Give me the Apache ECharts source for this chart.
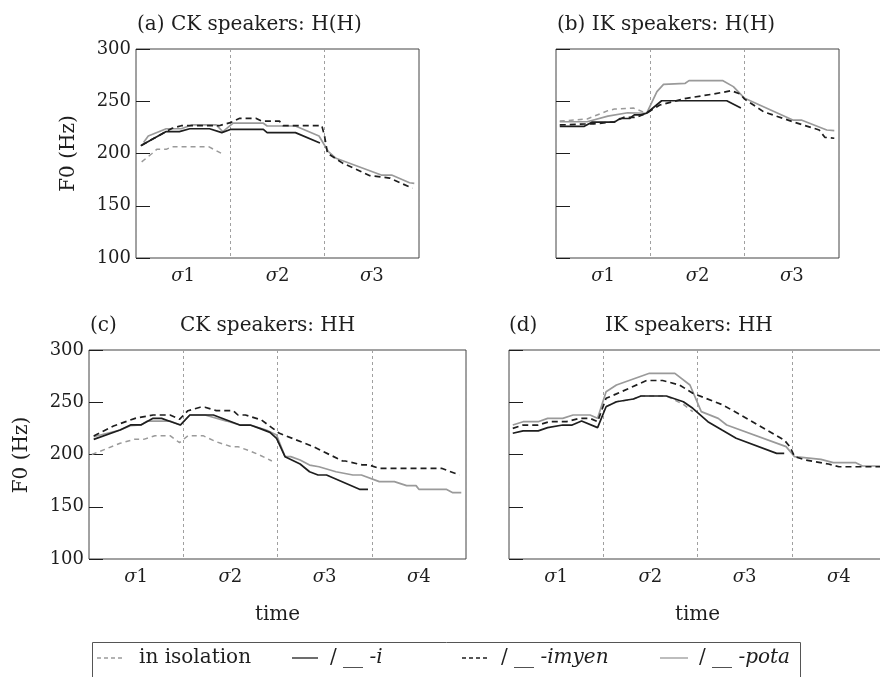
<!DOCTYPE html>
<html>
<head>
<meta charset="utf-8">
<script src="https://cdn.jsdelivr.net/npm/echarts@6/dist/echarts.min.js"></script>
<style>
  html, body { margin: 0; padding: 0; background: #fff; }
  #chart { width: 880px; height: 677px; }
</style>
</head>
<body>
<div id="chart"></div>
<script>
// section labels under each panel
const sections3 = ['σ1', 'σ2', 'σ3'];
const sections4 = ['σ1', 'σ2', 'σ3', 'σ4'];

// F0 axis
const yMin = 100, yMax = 300, yStep = 50;

// (a) CK speakers: H(H)   [time in syllable units, F0 Hz]
const aIso   = [[0.06,192],[0.17,200],[0.22,204],[0.32,204],[0.38,206.5],[0.77,206.5],[0.92,199.5]];
const aI     = [[0.05,207.5],[0.32,221],[0.46,221],[0.57,223.7],[0.78,223.7],[0.91,220],[1.0,223],[1.35,223],[1.39,220],[1.69,220],[1.95,210]];
const aImyen = [[0.06,208],[0.2,215],[0.38,224],[0.48,226.6],[0.88,226.6],[1.0,229.5],[1.1,233.7],[1.27,233.7],[1.33,231],[1.52,231],[1.56,226.6],[1.97,226.6],[2.0,216],[2.03,200.2],[2.19,190.8],[2.48,178.8],[2.69,176.5],[2.93,166.7]];
const aPota  = [[0.08,210.6],[0.13,216.7],[0.32,223.7],[0.48,223.7],[0.59,227.3],[0.85,227.3],[0.92,221],[1.03,229],[1.35,229],[1.39,226.3],[1.69,226.3],[1.94,216.7],[2.04,201.7],[2.12,195.4],[2.6,179.4],[2.71,179.4],[2.9,172],[2.95,171.5]];

// (b) IK speakers: H(H)
const bIso   = [[0.04,231],[0.33,233],[0.55,241],[0.62,242.5],[0.82,243.5],[0.96,238.5]];
const bI     = [[0.04,226],[0.3,226],[0.38,230],[0.62,230],[0.68,233.5],[0.78,233.5],[0.83,237],[0.9,237],[0.96,238.5],[1.12,250.5],[1.81,250.5],[1.96,243.5]];
const bImyen = [[0.04,227.3],[0.33,228.3],[0.4,228.3],[0.62,230.4],[0.72,234.6],[0.85,234.6],[0.96,238.5],[1.1,246.4],[1.38,252.8],[1.67,256.9],[1.86,260.1],[1.95,257],[2.0,252],[2.2,240],[2.51,230.4],[2.79,222.5],[2.85,215.5],[2.95,214.6]];
const bPota  = [[0.04,230.4],[0.33,230.4],[0.55,235.8],[0.76,239],[0.96,238.5],[1.07,259.2],[1.14,266.2],[1.37,267.2],[1.41,269.7],[1.77,269.7],[1.88,264],[2.0,252.8],[2.51,232],[2.6,232],[2.87,222.5],[2.95,221.9]];

// (c) CK speakers: HH
const cIso   = [[0.03,200],[0.33,210.7],[0.48,214.5],[0.58,214.5],[0.7,218],[0.86,218],[0.96,211.3],[1.05,218],[1.21,218],[1.35,212.2],[1.51,207.5],[1.58,207.5],[1.71,203.3],[1.81,199.5],[1.94,193.8]];
const cI     = [[0.05,214.5],[0.33,223.4],[0.44,228.3],[0.55,228.3],[0.68,234.6],[0.77,234.6],[0.87,231.4],[0.97,228.2],[1.07,237.8],[1.32,237.8],[1.46,233],[1.6,228.2],[1.71,228.2],[1.81,225],[1.92,221.2],[1.99,215.5],[2.08,197.9],[2.24,190.9],[2.34,183.5],[2.43,180.4],[2.52,180.4],[2.87,166.7],[2.96,166.7]];
const cImyen = [[0.05,217.7],[0.26,227.3],[0.49,234.6],[0.68,237.8],[0.86,237.8],[0.96,233.7],[1.05,241.9],[1.18,245.2],[1.23,245.2],[1.35,242],[1.53,242],[1.58,237.8],[1.66,237.8],[1.83,233],[1.95,225],[2.02,220.3],[2.38,207.5],[2.69,193.8],[2.72,193.8],[2.9,190],[2.97,190],[3.08,186.8],[3.74,186.8],[3.93,180.4]];
const cPota  = [[0.05,217],[0.33,223.4],[0.44,227.6],[0.55,228.3],[0.62,232],[0.86,232],[0.97,228.2],[1.07,237.8],[1.23,237.8],[1.46,232],[1.6,228.2],[1.71,228.2],[1.88,223.4],[1.99,218.6],[2.08,198],[2.14,198],[2.24,194.7],[2.34,189.9],[2.44,188.3],[2.62,183.5],[2.8,180.4],[2.89,180.4],[3.08,174],[3.24,174],[3.37,170.2],[3.47,170.2],[3.5,166.7],[3.79,166.7],[3.86,163.5],[3.95,163.5]];

// (d) IK speakers: HH
const dIso   = [[1.03,246],[1.14,250.5],[1.32,253.1],[1.4,256],[1.67,256],[1.85,248],[1.95,241]];
const dI     = [[0.04,220.3],[0.15,222.6],[0.31,222.6],[0.41,225.7],[0.57,228.2],[0.67,228.2],[0.77,232],[0.94,225.7],[1.03,245.7],[1.14,250.5],[1.32,253.1],[1.4,256],[1.67,256],[1.85,250.5],[1.95,244.2],[2.11,231.4],[2.26,223.4],[2.41,215.5],[2.84,201.1],[2.92,201]];
const dImyen = [[0.04,225],[0.15,228.2],[0.31,228.2],[0.43,231.4],[0.61,231.4],[0.75,234.6],[0.86,234.6],[0.94,231.4],[1.03,253.8],[1.14,258],[1.46,270.8],[1.63,270.8],[1.81,266.5],[1.95,258.6],[2.27,247.4],[2.55,233],[2.92,213.9],[2.98,207.5],[3.03,198],[3.15,194.7],[3.39,190.9],[3.5,188.3],[3.97,188.3]];
const dPota  = [[0.04,228.2],[0.15,231.4],[0.31,231.4],[0.41,234.6],[0.57,234.6],[0.68,237.8],[0.86,237.8],[0.94,234.6],[1.03,260],[1.14,266.5],[1.49,277.7],[1.76,277.7],[1.92,266.5],[2.04,241],[2.22,234.6],[2.31,228.2],[2.94,207.5],[3.03,197.9],[3.31,195.4],[3.44,192.2],[3.68,192.2],[3.75,189],[3.97,189]];

(function () {
  const chart = echarts.init(document.getElementById('chart'));
  const FONT = '"DejaVu Serif", "Liberation Serif", serif';
  const INK = '#1e1e1e';
  const GREY = '#9a9a9a';

  // line styles for the four contexts
  const styles = {
    iso:   { color: GREY, width: 1.5, type: [5, 4] },
    i:     { color: INK,  width: 1.7 },
    imyen: { color: INK,  width: 1.7, type: [6, 4] },
    pota:  { color: GREY, width: 1.7 }
  };

  const panels = [
    { box: { left: 136, top: 49, width: 283, height: 209 }, cats: sections3, yLabels: true,
      data: { iso: aIso, pota: aPota, imyen: aImyen, i: aI } },
    { box: { left: 556, top: 49, width: 283, height: 209 }, cats: sections3, yLabels: false,
      data: { iso: bIso, pota: bPota, imyen: bImyen, i: bI } },
    { box: { left: 89, top: 350, width: 377, height: 209 }, cats: sections4, yLabels: true,
      data: { iso: cIso, pota: cPota, imyen: cImyen, i: cI } },
    { box: { left: 509, top: 350, width: 377, height: 209 }, cats: sections4, yLabels: false,
      data: { iso: dIso, pota: dPota, imyen: dImyen, i: dI } }
  ];

  const grid = [], xAxis = [], yAxis = [], series = [];
  panels.forEach((p, g) => {
    grid.push(Object.assign({ show: true, borderColor: '#444', borderWidth: 1,
      backgroundColor: 'transparent', containLabel: false, outerBoundsMode: 'none' }, p.box));
    // value axis carrying the data + section dividers
    xAxis.push({
      gridIndex: g, type: 'value', min: 0, max: p.cats.length, interval: 1,
      axisLine: { show: false }, axisTick: { show: false }, axisLabel: { show: false },
      splitLine: { show: true, lineStyle: { color: '#a0a0a0', width: 1, type: [3, 3] } }
    });
    // category axis only for the σ labels
    xAxis.push({
      gridIndex: g, type: 'category', data: p.cats, boundaryGap: true, position: 'bottom',
      axisLine: { show: false }, axisTick: { show: false }, splitLine: { show: false },
      axisLabel: {
        margin: 9, fontFamily: FONT, fontSize: 18, color: INK,
        formatter: v => '{s|σ}' + v.slice(1),
        rich: { s: { fontFamily: FONT, fontSize: 18, fontStyle: 'italic', color: INK } }
      }
    });
    yAxis.push({
      gridIndex: g, type: 'value', min: yMin, max: yMax, interval: yStep,
      axisLine: { show: false }, splitLine: { show: false },
      axisTick: { show: true, inside: true, length: 14, lineStyle: { color: INK, width: 1 } },
      axisLabel: { show: p.yLabels, margin: 5, fontFamily: FONT, fontSize: 18, color: INK }
    });
    ['iso', 'pota', 'imyen', 'i'].forEach(k => {
      series.push({
        type: 'line', xAxisIndex: 2 * g, yAxisIndex: g, data: p.data[k],
        symbol: 'none', silent: true, lineStyle: styles[k]
      });
    });
  });

  const txt = (text, x, y, size, extra) => Object.assign({
    type: 'text', x, y, silent: true,
    style: Object.assign({ text, fill: INK, font: size + 'px ' + FONT, align: 'left', verticalAlign: 'middle' },
      extra && extra.style)
  }, extra && extra.el);

  const itRich = { it: { fontFamily: FONT, fontSize: 20, fontStyle: 'italic', fill: INK } };
  const legendY = 658;

  const graphic = [
    txt('(a) CK speakers: H(H)', 137, 25, 20),
    txt('(b) IK speakers: H(H)', 557, 25, 20),
    txt('(c)', 90, 326, 20),
    txt('CK speakers: HH', 180, 326, 20),
    txt('(d)', 509, 326, 20),
    txt('IK speakers: HH', 605, 326, 20),
    txt('F0 (Hz)', 69, 153.5, 20, { style: { align: 'center' }, el: { rotation: Math.PI / 2 } }),
    txt('F0 (Hz)', 22, 455, 20, { style: { align: 'center' }, el: { rotation: Math.PI / 2 } }),
    txt('time', 277.5, 615, 20, { style: { align: 'center' } }),
    txt('time', 697.5, 615, 20, { style: { align: 'center' } }),
    // legend box
    { type: 'rect', silent: true, shape: { x: 92.5, y: 642.5, width: 708, height: 60 },
      style: { fill: 'transparent', stroke: '#555', lineWidth: 1 } },
    { type: 'line', silent: true, shape: { x1: 97, y1: legendY, x2: 123, y2: legendY },
      style: { stroke: GREY, lineWidth: 1.3, lineDash: [4, 3] } },
    txt('in isolation', 139, legendY, 20),
    { type: 'line', silent: true, shape: { x1: 292, y1: legendY, x2: 318, y2: legendY },
      style: { stroke: INK, lineWidth: 1.3 } },
    txt('/ __ {it|-i}', 330, legendY, 20, { style: { rich: itRich } }),
    { type: 'line', silent: true, shape: { x1: 462, y1: legendY, x2: 490, y2: legendY },
      style: { stroke: INK, lineWidth: 1.3, lineDash: [4, 3] } },
    txt('/ __ {it|-imyen}', 501, legendY, 20, { style: { rich: itRich } }),
    { type: 'line', silent: true, shape: { x1: 660, y1: legendY, x2: 688, y2: legendY },
      style: { stroke: GREY, lineWidth: 1.3 } },
    txt('/ __ {it|-pota}', 699, legendY, 20, { style: { rich: itRich } })
  ];

  chart.setOption({
    animation: false,
    backgroundColor: '#fff',
    grid, xAxis, yAxis, series, graphic
  });
  window.addEventListener('resize', () => chart.resize());
})();
</script>
</body>
</html>
